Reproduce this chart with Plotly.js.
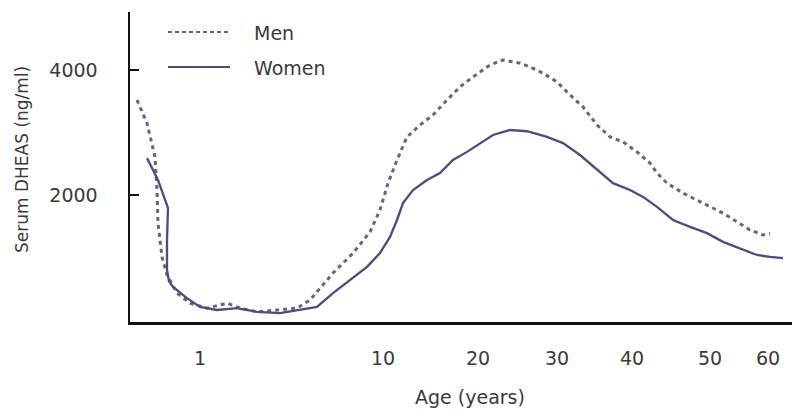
<!DOCTYPE html>
<html>
<head>
<meta charset="utf-8">
<script src="https://cdn.plot.ly/plotly-3.0.1.min.js"></script>
<style>html,body{margin:0;padding:0;background:#fff;}#chart{width:792px;height:419px;}</style>
</head>
<body>
<div id="chart"></div>
<script>
// x axis of the original figure is not to scale: positions are read along the drawn axis (axis units)
const tickPos = [200, 383, 478, 557, 632, 710, 768];
const tickLabels = ["1", "10", "20", "30", "40", "50", "60"];

const menX = [137,147,155,157,158,162,167,177,190,207,227,240,257,280,297,310,333,353,370,380,388,397,407,420,433,447,460,473,490,503,520,530,543,557,570,583,597,610,623,637,650,657,667,683,697,710,723,737,750,763,770];
const menY = [3520,3150,2610,2080,1550,1010,720,430,270,190,270,190,130,160,190,320,750,1070,1410,1760,2190,2560,2930,3120,3280,3520,3730,3890,4080,4160,4110,4050,3950,3810,3600,3410,3120,2930,2850,2690,2510,2350,2190,2030,1920,1810,1710,1570,1440,1360,1380];

const womenX = [147,158,168,167,167,169,173,187,200,217,237,257,280,300,317,333,350,367,380,390,397,403,413,427,440,453,467,480,493,510,527,547,563,580,597,613,630,643,657,673,690,707,723,740,757,770,783];
const womenY = [2590,2240,1790,1280,800,620,530,350,210,160,190,130,110,160,210,430,640,850,1070,1330,1600,1870,2080,2240,2350,2560,2690,2830,2960,3040,3020,2930,2830,2640,2400,2190,2080,1970,1810,1600,1490,1390,1250,1150,1040,1010,990];

const seriesNames = ["Men", "Women"];
const yTicks = [2000, 4000];

const FONT = "DejaVu Sans, Liberation Sans, Arial, sans-serif";
const TXT = "#3a3a3a";
const menColor = "#66667a";
const womenColor = "#4c4c7e";

const traces = [
  {x: menX, y: menY, mode: "lines", name: seriesNames[0],
   line: {color: menColor, width: 3, dash: "4px,4px"}, hoverinfo: "skip"},
  {x: womenX, y: womenY, mode: "lines", name: seriesNames[1],
   line: {color: womenColor, width: 2.3}, hoverinfo: "skip"}
];

// legend drawn in paper space
const W = 662, H = 310;
function px(xp) { return (xp - 130) / W; }
function py(yp) { return (322 - yp) / H; }

const layout = {
  width: 792, height: 419,
  margin: {l: 130, r: 0, t: 12, b: 97, pad: 0},
  paper_bgcolor: "#ffffff", plot_bgcolor: "#ffffff",
  showlegend: false,
  font: {family: FONT, size: 19, color: TXT},
  xaxis: {
    range: [130, 792], showgrid: false, zeroline: false,
    showline: true, linecolor: "#111", linewidth: 2.5,
    ticks: "", tickmode: "array", tickvals: tickPos, ticktext: tickLabels,
    ticklabelstandoff: 18,
    tickfont: {family: FONT, size: 19, color: TXT},
    fixedrange: true
  },
  yaxis: {
    range: [-32, 4928], showgrid: false, zeroline: false,
    showline: true, linecolor: "#111", linewidth: 2.5,
    ticks: "inside", ticklen: 9, tickwidth: 2, tickcolor: "#111",
    tickmode: "array", tickvals: yTicks, ticktext: yTicks.map(String),
    ticklabelstandoff: 26,
    tickfont: {family: FONT, size: 19, color: TXT},
    fixedrange: true
  },
  shapes: [
    {type: "line", xref: "paper", yref: "paper", x0: px(168), x1: px(230), y0: py(32), y1: py(32),
     line: {color: menColor, width: 2, dash: "4px,3px"}},
    {type: "line", xref: "paper", yref: "paper", x0: px(168), x1: px(230), y0: py(67), y1: py(67),
     line: {color: womenColor, width: 2}}
  ],
  annotations: [
    {text: seriesNames[0], xref: "paper", yref: "paper", x: px(252), y: py(33), xanchor: "left", yanchor: "middle",
     showarrow: false, font: {family: FONT, size: 19, color: TXT}},
    {text: seriesNames[1], xref: "paper", yref: "paper", x: px(252), y: py(68), xanchor: "left", yanchor: "middle",
     showarrow: false, font: {family: FONT, size: 19, color: TXT}},
    {text: "Age (years)", xref: "paper", yref: "paper", x: px(470), y: py(397), xanchor: "center", yanchor: "middle",
     showarrow: false, font: {family: FONT, size: 19, color: TXT}},
    {text: "Serum DHEAS (ng/ml)", xref: "paper", yref: "paper", x: px(22), y: py(160), xanchor: "center", yanchor: "middle",
     textangle: -90, showarrow: false, font: {family: FONT, size: 17, color: TXT}}
  ]
};

Plotly.newPlot("chart", traces, layout, {staticPlot: true, displayModeBar: false});
</script>
</body>
</html>
